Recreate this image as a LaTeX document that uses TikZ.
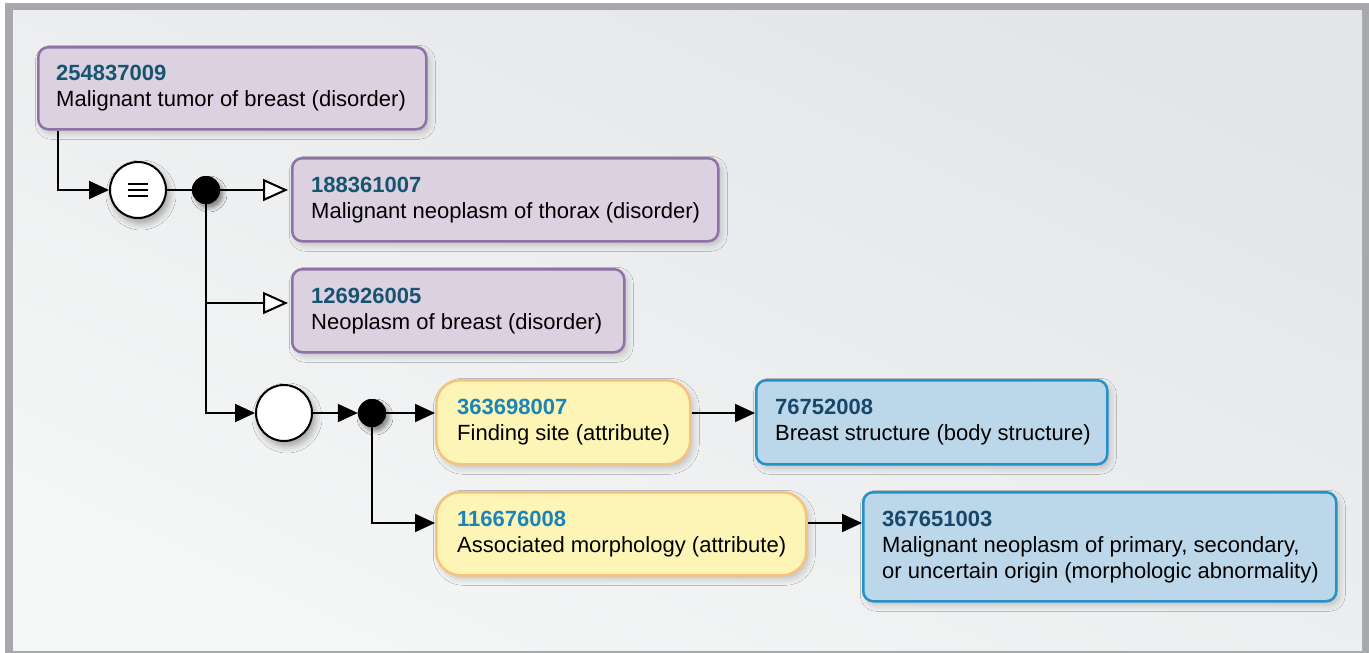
\documentclass[tikz,border=0pt]{standalone}
\usepackage{fontspec}
\setmainfont{Liberation Sans}
\usetikzlibrary{arrows.meta,shadows.blur,positioning}
\definecolor{frameg}{HTML}{A7A8AB}
\definecolor{bgtop}{HTML}{E4E5E7}
\definecolor{bgbot}{HTML}{F5F6F6}
\definecolor{purfill}{HTML}{DBD1E1}
\definecolor{purline}{HTML}{8F72A5}
\definecolor{purnum}{HTML}{16546F}
\definecolor{yelfill}{HTML}{FDF5B6}
\definecolor{yelline}{HTML}{F7C27C}
\definecolor{yelnum}{HTML}{1B84B8}
\definecolor{blufill}{HTML}{BDD7EA}
\definecolor{bluline}{HTML}{2491C8}
\definecolor{blunum}{HTML}{17486B}
\tikzset{
  basebox/.style={draw, line width=2.5pt, anchor=north west, inner sep=0pt,
    blur shadow={shadow xshift=3pt, shadow yshift=-4pt, shadow opacity=20, shadow blur radius=6pt}},
  purbox/.style={basebox, fill=purfill, draw=purline, rounded corners=10pt},
  yelbox/.style={basebox, fill=yelfill, draw=yelline, rounded corners=24pt},
  blubox/.style={basebox, fill=blufill, draw=bluline, rounded corners=10pt},
  label/.style={anchor=west, align=left, inner sep=0pt,
    font=\fontsize{22}{26}\selectfont},
  bigcirc/.style={circle, draw, line width=2pt, fill=white, minimum size=56pt, inner sep=0pt,
    blur shadow={shadow xshift=3pt, shadow yshift=-5pt, shadow opacity=35, shadow blur radius=7pt}},
  dotnode/.style={circle, fill=black, minimum size=28pt, inner sep=0pt,
    blur shadow={shadow xshift=3pt, shadow yshift=-4pt, shadow opacity=25, shadow blur radius=4pt}},
  conn/.style={line width=2pt},
  eqline/.style={line width=2pt},
  farrow/.style={conn, -{Triangle[length=20pt, width=18pt]}},
  oarrow/.style={conn, -{Triangle[open, fill=white, length=25pt, width=22pt, line width=2pt]}, shorten >=3pt},
}
\newcommand{\pnum}[1]{\textbf{\color{purnum}#1}}
\newcommand{\ynum}[1]{\textbf{\color{yelnum}#1}}
\newcommand{\bnum}[1]{\textbf{\color{blunum}#1}}
\begin{document}
\begin{tikzpicture}[x=1pt, y=-1pt]
\useasboundingbox (0,0) rectangle (1369,653);
\fill[white] (0,0) rectangle (1369,653);
\fill[frameg] (5,3) rectangle (1369,653);
\shade[top color=bgtop, bottom color=bgbot, shading angle=-25] (13,10) rectangle (1362,650);

% boxes
\node[purbox, minimum width=388pt, minimum height=82pt] (A) at (37,46) {};
\node[purbox, minimum width=426pt, minimum height=83pt] (B) at (291,157) {};
\node[purbox, minimum width=332pt, minimum height=83pt] (C) at (291,268) {};
\node[yelbox, minimum width=254pt, minimum height=84pt] (D) at (435,379) {};
\node[yelbox, minimum width=370pt, minimum height=83pt] (E) at (435,491) {};
\node[blubox, minimum width=351pt, minimum height=84pt] (F) at (755,379) {};
\node[blubox, minimum width=473pt, minimum height=109pt] (G) at (862,491) {};

% labels
\node[label] (At) at ([xshift=19pt]A.west) {\pnum{254837009}\\Malignant tumor of breast (disorder)};
\node[label] (Bt) at ([xshift=20pt]B.west) {\pnum{188361007}\\Malignant neoplasm of thorax (disorder)};
\node[label] (Ct) at ([xshift=20pt]C.west) {\pnum{126926005}\\Neoplasm of breast (disorder)};
\node[label] (Dt) at ([xshift=22pt]D.west) {\ynum{363698007}\\Finding site (attribute)};
\node[label] (Et) at ([xshift=22pt]E.west) {\ynum{116676008}\\Associated morphology (attribute)};
\node[label] (Ft) at ([xshift=20pt]F.west) {\bnum{76752008}\\Breast structure (body structure)};
\node[label] (Gt) at ([xshift=20pt]G.west) {\bnum{367651003}\\Malignant neoplasm of primary, secondary,\\or uncertain origin (morphologic abnormality)};

% circles and dots
\node[bigcirc] (eq) at (138,190) {};
\draw[eqline] ([xshift=-10pt,yshift=6pt]eq.center) -- ([xshift=10pt,yshift=6pt]eq.center);
\draw[eqline] ([xshift=-10pt]eq.center) -- ([xshift=10pt]eq.center);
\draw[eqline] ([xshift=-10pt,yshift=-6pt]eq.center) -- ([xshift=10pt,yshift=-6pt]eq.center);
\node[dotnode] (d1) at (206,190) {};
\node[bigcirc] (c2) at (284,413) {};
\node[dotnode] (d2) at (372,413) {};
\coordinate (brC) at (206,303);
\coordinate (brE) at (372,523);

% connectors
\draw[farrow] ([xshift=21pt]A.south west) |- (eq.west);
\draw[conn] (eq.east) -- (d1.west);
\draw[oarrow] (d1.east) -- (d1 -| B.west);
\draw[conn] (d1.center) -- (brC);
\draw[oarrow] (brC) -- (brC -| C.west);
\draw[farrow] (brC) |- (c2.west);
\draw[farrow] (c2.east) -- (d2.west);
\draw[farrow] (d2.east) -- (d2 -| D.west);
\draw[farrow] (d2.south) |- (brE -| E.west);
\draw[farrow] (d2 -| D.east) -- (d2 -| F.west);
\draw[farrow] (brE -| E.east) -- (brE -| G.west);
\node[dotnode] at (d1) {};
\node[dotnode] at (d2) {};
\end{tikzpicture}
\end{document}
